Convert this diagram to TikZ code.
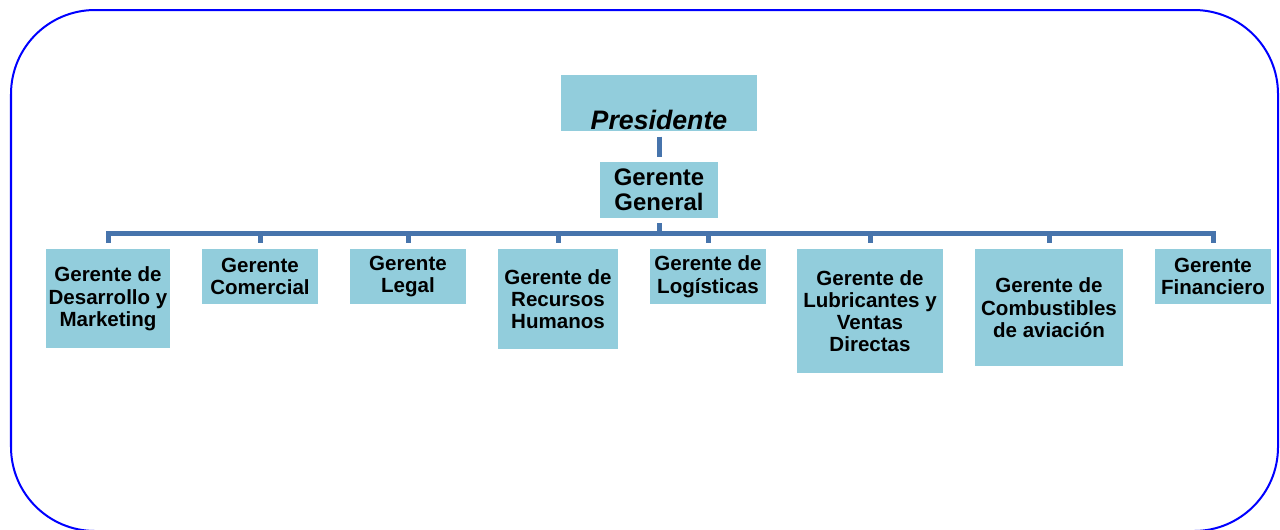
\documentclass[tikz,border=0pt]{standalone}
\usepackage{fontspec}
\setmainfont{Liberation Sans}
\definecolor{boxfill}{RGB}{146,205,220}
\definecolor{linkblue}{RGB}{71,116,172}
\tikzset{
  box/.style={fill=boxfill, inner sep=0pt, align=center,
    font=\bfseries\fontsize{14.6}{15.8}\selectfont},
  conn/.style={draw=linkblue, line width=0.125cm},
}
\begin{document}
\begin{tikzpicture}[x=0.025cm,y=-0.025cm]
\clip (0,0) rectangle (1280,529);
\draw[blue, line width=0.05cm, rounded corners=2.1cm] (11,10) rectangle (1278,531);

\node[box, anchor=north, minimum width=4.875cm, text height=1.35cm, text depth=0.05cm,
  font=\bfseries\itshape\fontsize{19}{22}\selectfont] (pres) at (659,75) {Presidente};
\node[box, minimum width=2.925cm, minimum height=1.4cm,
  font=\bfseries\fontsize{17}{17.6}\selectfont] (gg) at (659,190) {Gerente\\General};

\foreach \i/\x/\w/\h/\t in {
  1/108/124/99/{Gerente de\\Desarrollo y\\Marketing},
  2/260/116/55/{Gerente\\Comercial},
  3/408/116/55/{Gerente\\Legal},
  4/558/120/100/{Gerente de\\Recursos\\Humanos},
  5/708/116/55/{Gerente de\\Logísticas},
  6/870/146/124/{Gerente de\\Lubricantes y\\Ventas\\Directas},
  7/1049/148/117/{Gerente de\\Combustibles\\de aviación},
  8/1213/116/55/{Gerente\\Financiero}}{
  \node[box, anchor=north, minimum width=\w*0.025cm, minimum height=\h*0.025cm]
    (c\i) at (\x,249) {\t};
}

% connectors
\draw[conn] ([yshift=-0.125cm]pres.south) -- ([yshift=0.125cm]gg.north);
\coordinate (bar) at (659,233);
\draw[conn] ([yshift=-0.125cm]gg.south) -- (gg.south |- bar);
\draw[conn, line join=miter] ([yshift=0.15cm]c1.north) -- (c1.north |- bar)
  -- (c8.north |- bar) -- ([yshift=0.15cm]c8.north);
\foreach \i in {2,...,7}{
  \draw[conn] (c\i.north |- bar) -- ([yshift=0.15cm]c\i.north);
}
\end{tikzpicture}
\end{document}
